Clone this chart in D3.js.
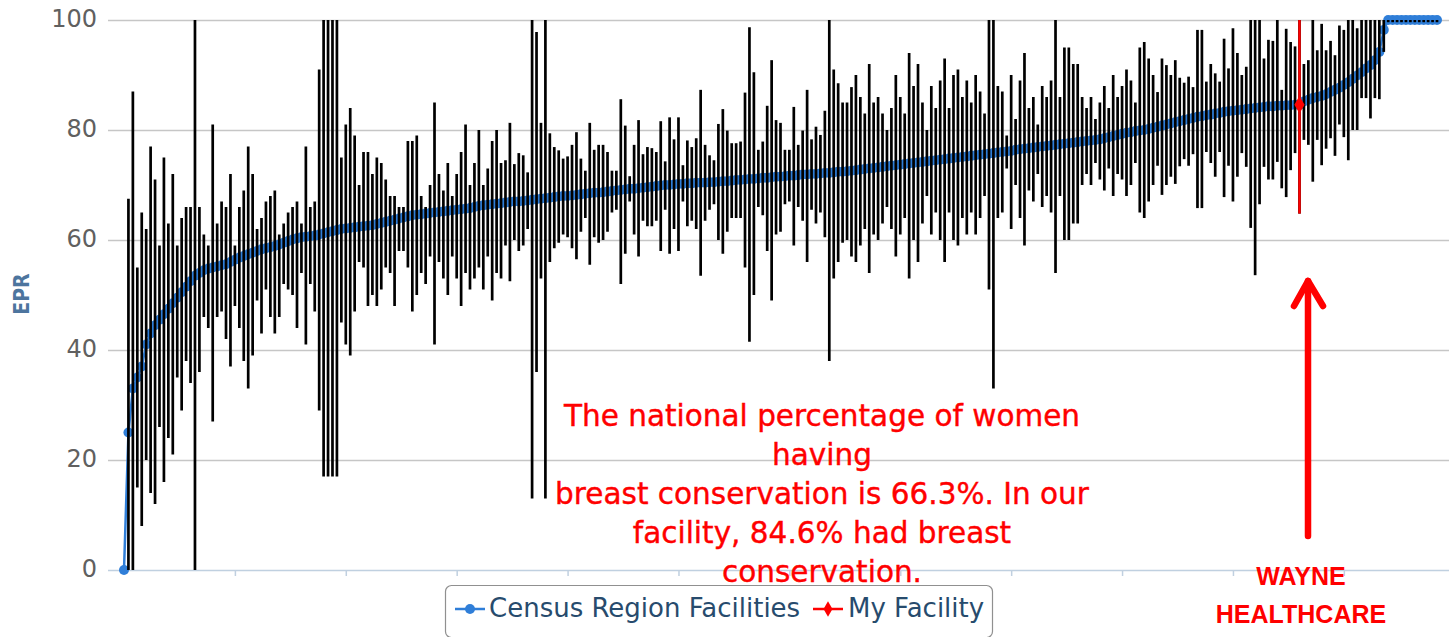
<!DOCTYPE html>
<html>
<head>
<meta charset="utf-8">
<script src="https://cdn.jsdelivr.net/npm/d3@7"></script>
<style>
  html, body { margin: 0; padding: 0; background: #fff; }
  svg { display: block; font-family: "DejaVu Sans", Verdana, sans-serif; }
</style>
</head>
<body>
<div id="vis"></div>
<script>
// EPR per facility in the census region, sorted ascending
const epr = [
  0, 25, 33, 35, 37, 41, 43, 44.5, 45.5, 46.5,
  47.5, 48.5, 49.5, 50.5, 51.5, 52.5, 53.5, 54, 54.5, 54.8,
  55, 55.2, 55.4, 55.6, 56, 56.4, 56.8, 57.1, 57.4, 57.7,
  58, 58.3, 58.5, 58.7, 58.9, 59.2, 59.5, 59.8, 60.1, 60.3,
  60.5, 60.6, 60.7, 60.8, 61, 61.2, 61.4, 61.6, 61.8, 62,
  62.1, 62.2, 62.3, 62.4, 62.5, 62.6, 62.7, 62.9, 63.1, 63.3,
  63.5, 63.7, 63.9, 64.1, 64.3, 64.5, 64.6, 64.7, 64.8, 64.9,
  65, 65.1, 65.2, 65.3, 65.4, 65.5, 65.6, 65.7, 65.8, 66,
  66.2, 66.3, 66.4, 66.5, 66.6, 66.7, 66.8, 66.9, 67, 67,
  67.1, 67.2, 67.3, 67.4, 67.5, 67.6, 67.7, 67.8, 67.9, 68,
  68, 68.1, 68.2, 68.3, 68.4, 68.5, 68.6, 68.6, 68.7, 68.8,
  68.9, 69, 69.1, 69.2, 69.3, 69.3, 69.4, 69.5, 69.6, 69.7,
  69.8, 69.9, 70, 70, 70.1, 70.2, 70.2, 70.3, 70.3, 70.4,
  70.4, 70.4, 70.5, 70.5, 70.6, 70.7, 70.7, 70.8, 70.9, 70.9,
  71, 71.1, 71.1, 71.2, 71.3, 71.3, 71.4, 71.5, 71.5, 71.6,
  71.7, 71.7, 71.8, 71.9, 71.9, 72, 72, 72.1, 72.2, 72.2,
  72.3, 72.4, 72.4, 72.5, 72.6, 72.7, 72.8, 72.9, 73, 73.1,
  73.2, 73.3, 73.4, 73.5, 73.6, 73.7, 73.8, 73.9, 74, 74.1,
  74.2, 74.3, 74.4, 74.5, 74.6, 74.7, 74.8, 74.9, 75, 75.1,
  75.2, 75.3, 75.4, 75.5, 75.6, 75.7, 75.8, 75.9, 76, 76.1,
  76.2, 76.4, 76.5, 76.6, 76.7, 76.8, 76.9, 77, 77.1, 77.2,
  77.3, 77.4, 77.5, 77.6, 77.7, 77.8, 77.9, 78, 78.1, 78.2,
  78.3, 78.5, 78.7, 78.9, 79.1, 79.3, 79.5, 79.6, 79.8, 79.9,
  80, 80.2, 80.4, 80.6, 80.8, 81, 81.2, 81.4, 81.6, 81.8,
  82, 82.2, 82.4, 82.5, 82.7, 82.8, 83, 83.1, 83.3, 83.4,
  83.5, 83.6, 83.7, 83.8, 83.9, 84, 84.1, 84.2, 84.3, 84.3,
  84.4, 84.4, 84.5, 84.5, 84.6, 84.6, 85.2, 85.5, 85.8, 86,
  86.2, 86.5, 86.9, 87.3, 87.7, 88.2, 88.7, 89.3, 89.9, 90.5,
  91.2, 91.8, 92.7, 94.2, 98.2, 100, 100, 100, 100, 100,
  100, 100, 100, 100, 100, 100, 100
];

// lower end of each facility's interval
const lows = [
  0, 0, 0, 15, 8, 20, 14, 12, 26, 16,
  24, 21, 35, 29, 38, 34, 0, 36, 46, 44,
  27, 46, 47, 42, 37, 48, 44, 38, 33, 39,
  49, 43, 51, 46, 43, 46, 52, 51, 50, 44,
  54, 41, 52, 47, 29, 17, 17, 17, 17, 45,
  41, 39, 47, 56, 55, 48, 50, 48, 51, 55,
  54, 48, 58,
  58, 55, 47, 50, 54, 52, 57, 41, 56, 53,
  50, 57, 53, 48, 54, 51, 53, 55, 51, 57,
  49, 54, 53,
  59, 52.5, 60, 58, 59, 62, 13, 36, 53, 13,
  56, 58.5, 59.5, 61, 60.5, 58.5, 56.5, 61.5, 64, 55.5,
  60.5, 59.5, 60, 61.5, 65, 65.5, 52, 57.5, 67, 61,
  57, 63.5, 62.5, 62.5, 63.5, 58, 65.5, 57.5, 62, 58,
  67, 62.5, 63.5, 62, 53.5, 63.5, 65.5, 66.5, 60, 57.5,
  61.5, 64, 64, 64, 55, 41.5, 50, 66, 64.5, 58,
  49, 61, 61.5, 66.5, 67, 59, 66, 63.5, 56, 65.5,
  63, 65, 60.5, 38, 53, 56, 59.5, 60, 57,
  56, 59, 62, 54, 61, 60, 63, 66, 62, 57,
  61, 64, 53, 60, 56, 63, 68, 61, 65, 60,
  56, 65, 60, 59, 64, 61, 65, 61, 64, 68,
  51, 33, 64, 65, 73, 62, 70, 64, 59, 69,
  67, 72, 66, 68, 65, 54, 68, 60, 60, 63,
  63, 70, 72, 70, 74, 71, 69, 73, 68, 72,
  71, 68, 70, 74, 65, 64, 67, 70,
  73.5, 68.2, 70, 71.5, 70.2, 73.4, 74.7, 73.5, 75.6, 65.8,
  65.8, 76, 74, 71.5, 76, 67.8, 73.5, 67, 71.5, 75.8,
  73.3, 62.2, 53.6, 66.5, 73.3, 71, 71, 74.2, 69.4, 67.8,
  72.7, 75.8,
  64.8,
  78.2, 77.3, 70.6, 78.2, 73.6, 76.6, 78.5, 75.3, 81, 78.7,
  74.5, 80, 80, 85.8, 85.8, 82.1, 85.8, 85.6, 94.2,
  99.6, 99.6, 99.6, 99.6, 99.6, 99.6, 99.6, 99.6, 99.6, 99.6,
  99.6, 99.6
];

// upper end of each facility's interval
const highs = [
  0, 67.5, 87, 55, 65, 62, 77, 71, 59, 75,
  63, 72, 59, 64, 66, 66, 100, 66, 61, 59,
  81, 63, 67, 66, 72, 59, 66, 69, 77, 72,
  62, 64, 67, 68, 69, 61, 63, 65, 66, 67,
  63, 77, 66, 67, 91, 100, 100, 100, 100, 75,
  81, 84, 79, 70, 76, 76, 72, 75, 74, 71,
  68, 68, 66,
  66, 78, 78, 79, 68, 66, 70, 85, 72, 69,
  74, 68, 72, 76, 81, 70, 74, 80, 70, 73,
  78, 80, 74,
  74.5, 81.3, 73.8, 75.8, 75.4, 72.3, 100, 97.8, 81.3, 100,
  79.4, 76.9, 76.3, 74.8, 75.2, 77.3, 79.6, 74.8, 72.6, 81.3,
  76.4, 77.3, 77.3, 76, 72.6, 72.6, 85.6, 80.8, 71.6, 77.3,
  81.8, 75.6, 76.9, 76.7, 76, 81.6, 74.3, 82.3, 78.3, 82.3,
  73.6, 78.1, 76.9, 78.5, 87.3, 77.3, 75.4, 74.5, 81.1, 83.8,
  79.9, 77.6, 77.6, 77.9, 86.8, 98.7, 90.5, 76.4, 77.9, 84.4,
  92.7, 81.8, 81.3, 76.4, 76.4, 84.2, 77.3, 79.9, 87.3, 78.3,
  80.6, 79.1, 83.5, 100, 91, 88.5, 85, 85, 87.8,
  90, 86, 83, 92, 85, 86, 83, 80, 84, 90,
  86, 83, 94, 88, 92, 85, 80, 88, 84, 89,
  93, 84, 90, 91, 86, 89, 85, 90, 87, 83,
  100, 100, 88, 87, 79, 90, 82, 89, 94, 84,
  86, 81, 88, 86, 89, 100, 86, 95, 95, 92,
  92, 86, 84, 86, 82, 85, 88, 84, 90, 86,
  88, 91, 89, 85, 95, 96, 93, 90,
  86.9, 93, 91.8, 90, 92.7, 89.5, 88.6, 89.7, 87.8, 98.2,
  98.2, 88.8, 92, 90.3, 88.8, 96.6, 91.2, 98.5, 94, 90,
  91.5, 100, 100, 100, 93, 96.4, 96.2, 100, 87.3, 98.4,
  96, 95.2,
  100,
  92, 92.7, 100, 94.5, 99.3, 94.5, 96.2, 93.6, 99, 98.2,
  100, 100, 98.5, 100, 100, 100, 100, 100, 100,
  100, 100, 100, 100, 100, 100, 100, 100, 100, 100,
  100, 100
];

const myFacility = { index: 265, value: 84.6, low: 64.8, high: 100 };

const yTicks = [0, 20, 40, 60, 80, 100];
const xTickStep = 25;
const seriesNames = ['Census Region Facilities', 'My Facility'];
const yTitle = 'EPR';

const noteLines = [
  'The national percentage of women',
  'having',
  'breast conservation is 66.3%. In our',
  'facility, 84.6% had breast',
  'conservation.'
];
const facilityLines = ['WAYNE', 'HEALTHCARE'];

function eprChart() {
  const width = 1449;
  const height = 637;
  const plot = { left: 108, right: 1449, top: 20, bottom: 570 };

  const blue = '#2f7ed8';
  const red = '#ff0000';

  const n = Math.min(epr.length, lows.length, highs.length);
  const nodes = d3.range(n).map((i) => ({
    i: i,
    value: epr[i],
    low: lows[i],
    high: highs[i]
  }));

  const x = d3.scaleLinear()
    .domain([0, 296])
    .range([124, 1437]);

  const y = d3.scaleLinear()
    .domain([0, 100])
    .range([plot.bottom, plot.top]);

  const svg = d3.select('#vis')
    .append('svg')
    .attr('width', width)
    .attr('height', height);

  // y axis: labels + grid lines
  const yAxis = svg.append('g')
    .attr('transform', `translate(${plot.left},0)`)
    .call(d3.axisLeft(y)
      .tickValues(yTicks)
      .tickSize(-(plot.right - plot.left))
      .tickPadding(11));
  yAxis.select('.domain').remove();
  yAxis.selectAll('.tick line')
    .attr('stroke', (d) => d === 0 ? '#c0d0e0' : '#c6c6c6')
    .attr('stroke-width', 1.5);
  yAxis.selectAll('.tick text')
    .attr('fill', '#606060')
    .attr('font-size', 24)
    .attr('dy', '0.25em')
    .style('font-family', '"DejaVu Sans", Verdana, sans-serif');

  // x axis ticks only, no labels
  const xAxis = svg.append('g')
    .attr('transform', `translate(0,${plot.bottom})`)
    .call(d3.axisBottom(x)
      .tickValues(d3.range(xTickStep, n, xTickStep))
      .tickFormat('')
      .tickSize(6)
      .tickSizeOuter(0));
  xAxis.select('.domain').remove();
  xAxis.selectAll('.tick line')
    .attr('stroke', '#c0d0e0')
    .attr('stroke-width', 1.5);

  svg.append('text')
    .attr('transform', 'translate(29,294) rotate(-90)')
    .attr('text-anchor', 'middle')
    .attr('fill', '#4d759e')
    .attr('font-weight', 'bold')
    .attr('font-size', 21)
    .style('font-family', '"DejaVu Sans Condensed", "DejaVu Sans", sans-serif')
    .text(yTitle);

  // census region series: line + markers
  const line = d3.line()
    .x((d) => x(d.i))
    .y((d) => y(d.value));

  svg.append('path')
    .datum(nodes)
    .attr('fill', 'none')
    .attr('stroke', blue)
    .attr('stroke-width', 2.5)
    .attr('d', line);

  svg.append('g')
    .selectAll('circle')
    .data(nodes)
    .enter().append('circle')
    .attr('cx', (d) => x(d.i))
    .attr('cy', (d) => y(d.value))
    .attr('r', 5)
    .attr('fill', blue);

  // error bars on top
  svg.append('g')
    .selectAll('line')
    .data(nodes.filter((d) => d.high > d.low))
    .enter().append('line')
    .attr('x1', (d) => x(d.i))
    .attr('x2', (d) => x(d.i))
    .attr('y1', (d) => y(d.low))
    .attr('y2', (d) => y(d.high))
    .attr('stroke', '#000')
    .attr('stroke-width', 2.7);

  // my facility
  svg.append('line')
    .attr('x1', x(myFacility.index))
    .attr('x2', x(myFacility.index))
    .attr('y1', y(myFacility.low))
    .attr('y2', y(myFacility.high))
    .attr('stroke', red)
    .attr('stroke-width', 2.5);

  svg.append('path')
    .attr('d', d3.symbol(d3.symbolDiamond, 90)())
    .attr('transform', `translate(${x(myFacility.index)},${y(myFacility.value)})`)
    .attr('fill', red);

  // annotation text
  svg.append('g')
    .selectAll('text')
    .data(noteLines)
    .enter().append('text')
    .attr('x', 822)
    .attr('y', (d, i) => 426 + i * 39)
    .attr('text-anchor', 'middle')
    .attr('fill', red)
    .attr('font-size', 29.5)
    .attr('stroke', red)
    .attr('stroke-width', 0.4)
    .text((d) => d);

  // arrow pointing at the facility
  const arrow = svg.append('g')
    .attr('stroke', red)
    .attr('stroke-width', 6.5)
    .attr('stroke-linecap', 'round')
    .attr('stroke-linejoin', 'round')
    .attr('fill', 'none');
  arrow.append('line')
    .attr('x1', 1308).attr('y1', 536)
    .attr('x2', 1308).attr('y2', 281);
  arrow.append('path')
    .attr('d', 'M1294,306 L1308,281 L1323,306');

  svg.append('g')
    .selectAll('text')
    .data(facilityLines)
    .enter().append('text')
    .attr('x', 1301)
    .attr('y', (d, i) => 585 + i * 38)
    .attr('text-anchor', 'middle')
    .attr('fill', red)
    .attr('font-weight', 'bold')
    .attr('font-size', 25)
    .style('font-family', '"Liberation Sans", Arial, sans-serif')
    .text((d) => d);

  // legend
  const legend = svg.append('g');
  legend.append('rect')
    .attr('x', 445.5)
    .attr('y', 585.5)
    .attr('width', 547)
    .attr('height', 52)
    .attr('rx', 6)
    .attr('fill', '#fff')
    .attr('stroke', '#909090')
    .attr('stroke-width', 1.2);

  const items = [
    { name: seriesNames[0], color: blue, sx: 455, tx: 489, symbol: 'circle' },
    { name: seriesNames[1], color: red, sx: 813, tx: 848, symbol: 'diamond' }
  ];
  items.forEach((item) => {
    legend.append('line')
      .attr('x1', item.sx).attr('x2', item.sx + 30)
      .attr('y1', 609).attr('y2', 609)
      .attr('stroke', item.color)
      .attr('stroke-width', 2.5);
    if (item.symbol === 'circle') {
      legend.append('circle')
        .attr('cx', item.sx + 15).attr('cy', 609).attr('r', 5)
        .attr('fill', item.color);
    } else {
      legend.append('path')
        .attr('d', d3.symbol(d3.symbolDiamond, 70)())
        .attr('transform', `translate(${item.sx + 15},609)`)
        .attr('fill', item.color);
    }
    legend.append('text')
      .attr('x', item.tx)
      .attr('y', 617)
      .attr('fill', '#274b6d')
      .attr('font-size', 26)
      .text(item.name);
  });
}

eprChart();
</script>
</body>
</html>
